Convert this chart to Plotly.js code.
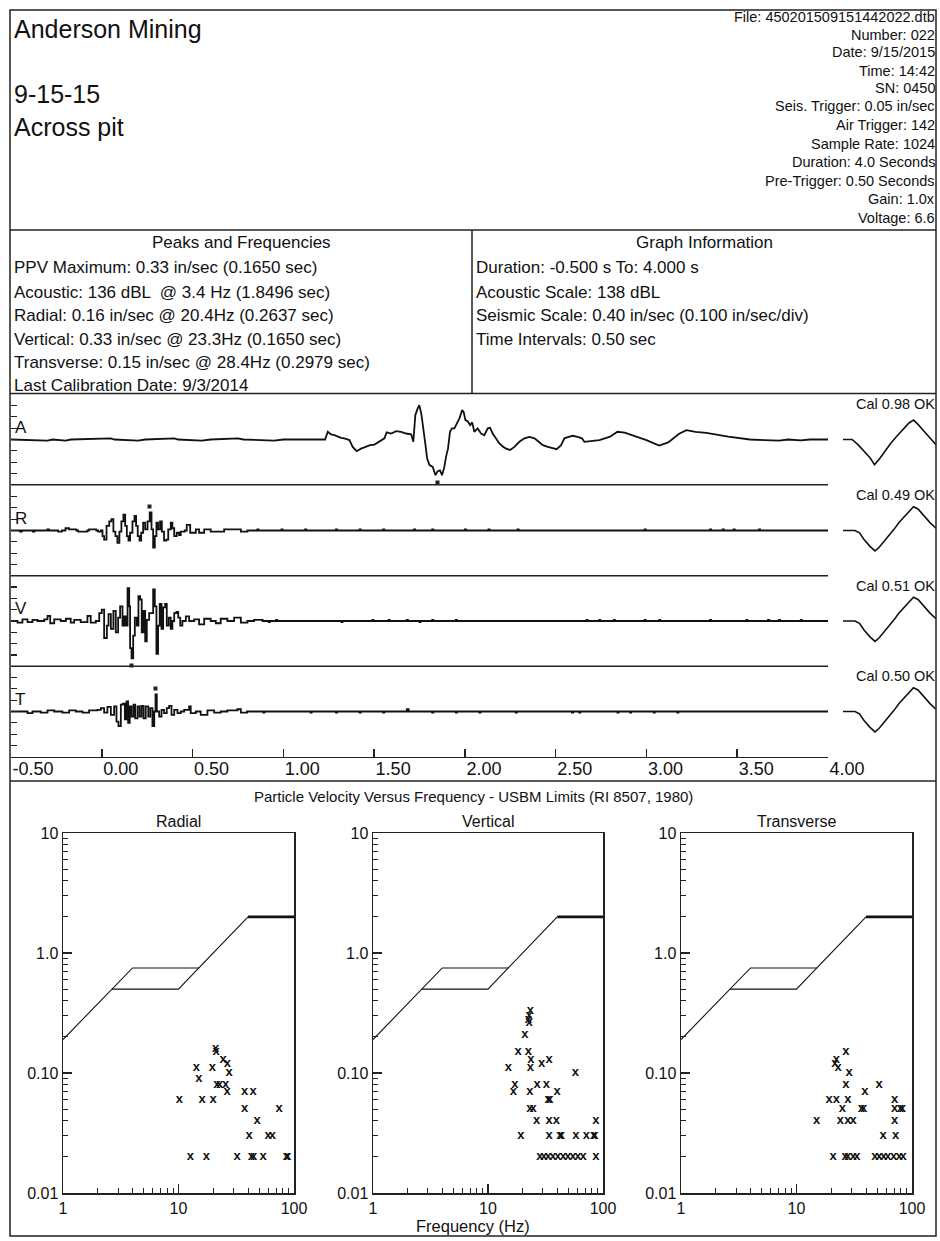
<!DOCTYPE html>
<html><head><meta charset="utf-8">
<script src="https://cdn.plot.ly/plotly-3.0.1.min.js"></script>
<style>html,body{margin:0;padding:0;background:#fff}#chart{width:940px;height:1241px}</style>
</head><body><div id="chart"></div>
<script>
// ---------------- DATA ----------------
const headerLeft = ['Anderson Mining', '9-15-15', 'Across pit'];
const headerRight = ['File: 450201509151442022.dtb','Number: 022','Date: 9/15/2015','Time: 14:42','SN: 0450',
  'Seis. Trigger: 0.05 in/sec','Air Trigger: 142','Sample Rate: 1024','Duration: 4.0 Seconds',
  'Pre-Trigger: 0.50 Seconds','Gain: 1.0x','Voltage: 6.6'];
const peaksTitle = 'Peaks and Frequencies';
const peaksLines = ['PPV Maximum: 0.33 in/sec (0.1650 sec)','Acoustic: 136 dBL  @ 3.4 Hz (1.8496 sec)',
  'Radial: 0.16 in/sec @ 20.4Hz (0.2637 sec)','Vertical: 0.33 in/sec @ 23.3Hz (0.1650 sec)',
  'Transverse: 0.15 in/sec @ 28.4Hz (0.2979 sec)','Last Calibration Date: 9/3/2014'];
const graphTitle = 'Graph Information';
const graphLines = ['Duration: -0.500 s To: 4.000 s','Acoustic Scale: 138 dBL',
  'Seismic Scale: 0.40 in/sec (0.100 in/sec/div)','Time Intervals: 0.50 sec'];
const channelNames = ['A','R','V','T'];
const calLabels = ['Cal 0.98 OK','Cal 0.49 OK','Cal 0.51 OK','Cal 0.50 OK'];
const timeTicks = [-0.5,0,0.5,1,1.5,2,2.5,3,3.5,4];
const timeTickText = ['-0.50','0.00','0.50','1.00','1.50','2.00','2.50','3.00','3.50','4.00'];
const seisDiv = 0.1;        // in/sec per division
const acDiv = 39.7;         // Pa per division (138 dBL full scale = 4 div)

// Acoustic (Pa)
const aT = [-0.5,-0.30,-0.27,-0.20,-0.17,0.05,0.07,0.20,0.24,0.40,0.42,0.55,0.60,0.75,0.78,0.95,1.0,1.23,
 1.245,1.263,1.281,1.300,1.318,1.336,1.364,1.382,1.404,1.428,1.456,1.478,1.502,1.529,1.557,1.569,1.594,1.621,1.649,1.676,1.704,1.716,
 1.727,1.740,1.749,1.760,1.771,1.783,1.792,1.805,1.823,1.838,1.850,1.863,1.874,1.887,1.896,1.907,1.918,1.929,1.942,1.955,
 1.970,1.985,1.993,2.003,2.015,2.029,2.040,2.052,2.070,2.089,2.107,2.126,2.139,2.153,2.172,2.190,2.212,2.227,2.249,2.273,
 2.300,2.328,2.355,2.383,2.407,2.429,2.457,2.483,2.505,2.530,2.548,2.572,2.594,2.621,2.645,2.658,2.686,2.711,2.741,
 2.80,2.84,2.88,2.95,3.00,3.07,3.12,3.18,3.22,3.27,3.33,3.45,3.57,3.65,3.73,3.78,3.85,3.90,4.0];
const aV = [0,-4,0,-4,0,4,0,-4,0,4,0,-4,0,4,0,-4,0,0,
 27,18,15,9,6,4,-2,-26,-41,-32,-26,-20,-18,-8,4,25,21,29,27,21,18,-8,
 85,109,120,91,27,-20,-67,-90,-96,-125,-111,-108,-125,-96,-61,-32,27,39,39,56,
 74,103,97,68,64,50,60,27,39,21,15,39,41,21,4,-14,-26,-32,-37,-26,
 -8,4,9,4,-8,-20,-26,-29,-34,-20,4,9,13,9,4,-8,-6,-2,-2,
 10,27,24,8,-2,-21,-10,20,33,27,23,10,0,-2,-4,0,-3,0,0];

// Radial (in/sec)
const rT = [-0.5,-0.45,-0.44,-0.38,-0.37,-0.30,-0.29,-0.24,-0.22,-0.20,-0.18,-0.14,-0.13,-0.08,-0.07,-0.03,-0.02,
 -0.005,0.004,0.013,0.026,0.041,0.053,0.064,0.075,0.086,0.097,0.108,0.119,0.129,0.138,0.147,0.156,0.169,0.180,0.189,0.198,
 0.208,0.217,0.228,0.239,0.252,0.264,0.274,0.283,0.292,0.301,0.310,0.321,0.331,0.343,0.355,0.366,0.380,0.389,0.399,0.413,
 0.426,0.435,0.457,0.468,0.481,0.487,0.499,0.518,0.536,0.564,0.600,0.637,0.674,0.729,0.766,0.802,
 0.857,0.863,0.99,0.996,1.12,1.126,1.29,1.296,1.42,1.426,1.55,1.556,1.72,1.726,1.82,1.826,2.0,2.006,2.13,2.136,
 2.29,2.296,2.99,2.996,3.35,3.356,3.42,3.426,3.48,3.486,3.62,3.626,4.0];
const rV = [0,-0.01,0,-0.01,0,0.01,0,-0.01,0,0.02,0.01,0,-0.01,0,0.01,0,-0.01,
 0,-0.05,-0.08,0.04,0.08,0.10,-0.01,-0.05,-0.11,-0.01,0.08,0.14,0.04,-0.05,-0.09,-0.02,0.08,0.13,0.04,-0.05,
 -0.09,-0.02,0.07,0.01,0.08,0.16,0.01,-0.15,-0.05,0.07,0.01,0.08,-0.01,-0.09,-0.08,0.01,0.07,0.02,-0.05,-0.02,
 -0.04,-0.01,0,0.05,0.05,-0.02,-0.02,0.01,-0.02,0.01,-0.01,-0.01,0.01,0.01,-0.01,0,
 0.01,0,0.01,0,0.01,0,0.01,0,0.01,0,0.01,0,0.01,0,0.01,0,0.01,0,0.01,0,
 0.01,0,0.01,0,0.01,0,0.01,0,0.01,0,0.01,0,0];

// Vertical (in/sec)
const vT = [-0.5,-0.464,-0.437,-0.409,-0.382,-0.354,-0.317,-0.299,-0.284,-0.262,-0.226,-0.198,-0.171,-0.152,-0.116,-0.079,-0.061,-0.033,
 -0.014,0.0,0.013,0.028,0.037,0.050,0.064,0.077,0.090,0.101,0.114,0.123,0.132,0.142,0.151,0.156,0.164,0.173,0.182,0.193,
 0.202,0.211,0.220,0.230,0.239,0.248,0.261,0.274,0.283,0.292,0.301,0.310,0.319,0.329,0.338,0.349,0.358,0.369,0.380,0.389,
 0.399,0.411,0.421,0.432,0.444,0.463,0.481,0.509,0.536,0.564,0.600,0.628,0.655,0.692,0.729,0.766,0.802,0.839,
 0.88,0.886,0.92,0.926,0.96,0.966,1.32,1.326,1.49,1.496,1.58,1.586,1.68,1.686,1.75,1.756,1.82,1.826,1.95,1.956,
 2.67,2.676,2.74,2.746,2.82,2.826,2.99,2.996,3.07,3.076,3.35,3.356,3.55,3.556,3.67,3.676,3.73,3.736,3.85,3.856,4.0];
const vV = [0,-0.015,0.015,-0.01,0.01,0,0.015,0.044,-0.02,0.015,0,0.02,-0.015,0.01,-0.01,0.044,-0.015,0,
 0.07,0.10,-0.15,-0.04,0.06,-0.07,0.09,-0.10,0.03,0.13,-0.04,0.04,-0.04,0.29,0.13,-0.24,-0.33,-0.13,0.03,-0.04,
 0.22,0.19,-0.10,0.09,-0.18,0.01,0.07,0.07,0.28,0.13,-0.29,-0.04,0.15,-0.07,0.12,0.15,-0.04,0.03,-0.07,0,
 0.07,0.08,0.03,-0.04,0,0.04,0,0.015,-0.03,0.02,0,-0.02,0.02,0,0.03,-0.015,0,0.01,
 0.01,0,-0.01,0,0.01,0,-0.01,0,0.01,0,0.01,0,0.01,0,-0.01,0,0.01,0,0.01,0,
 0.01,0,0.01,0,0.01,0,0.01,0,0.01,0,0.01,0,0.01,0,0.01,0,0.01,0,0.01,0,0];

// Transverse (in/sec)
const tT = [-0.5,-0.409,-0.382,-0.336,-0.299,-0.262,-0.217,-0.180,-0.143,-0.106,-0.070,
 -0.024,-0.005,0.013,0.031,0.050,0.068,0.081,0.092,0.105,0.116,0.127,0.136,0.145,0.154,0.164,0.175,0.184,0.197,0.208,0.219,
 0.230,0.242,0.256,0.267,0.279,0.289,0.296,0.303,0.316,0.329,0.343,0.358,0.371,0.384,0.399,0.417,0.435,0.454,0.481,0.490,
 0.518,0.545,0.582,0.619,0.655,0.692,0.747,0.766,
 0.80,0.89,0.896,1.15,1.156,1.29,1.296,1.42,1.426,1.55,1.556,1.68,1.69,1.82,1.826,1.95,1.956,2.08,2.086,
 2.28,2.286,2.59,2.596,2.63,2.636,2.84,2.846,2.91,2.916,3.04,3.046,3.17,3.176,4.0];
const tV = [0,-0.015,0,-0.01,0.01,0,-0.01,0.01,0,-0.01,0.01,
 0.015,0.03,-0.01,0.04,-0.03,0.045,-0.09,-0.13,0.06,0.07,-0.07,0.09,-0.10,0.045,-0.045,0.06,-0.06,0.045,-0.045,0.05,
 -0.06,0.045,-0.045,0.03,-0.13,0,0.15,0,-0.045,0.015,-0.015,0.03,0.05,-0.03,0.015,-0.015,0,0.015,0.045,-0.015,
 0,-0.03,0.01,-0.01,0,0.01,0.02,-0.01,
 0,-0.01,0,-0.01,0,-0.01,0,-0.01,0,-0.01,0,0.02,0,-0.01,0,-0.01,0,-0.01,0,
 -0.01,0,-0.01,0,-0.01,0,-0.01,0,-0.01,0,-0.01,0,-0.01,0,0];

// Peak markers [time, value]
const peakT = [1.8496, 0.2637, 0.1650, 0.2979];
const peakV = [-125, 0.16, -0.33, 0.15];

// Calibration pulses
const calMs = [5,17,21.5,26,32,37,41,47,53,56,61,65,71,75.5,80,86,92,98];
const calSeis = [0,0,-0.02,-0.08,-0.14,-0.18,-0.15,-0.09,-0.02,0.01,0.07,0.11,0.17,0.21,0.19,0.13,0.07,0.02];
const calAcMs = [5,14,20,26,32,36.5,41,47,53,59,65,71,75.5,80,86,92,98];
const calAc = [0,0,-18,-41,-64,-88,-70,-41,-12,12,35,58,68,53,29,6,-18];

// USBM RI 8507 limit lines
const limF1 = [1,4,15,40];
const limV1 = [0.19,0.75,0.75,2.0];
const limF2 = [2.65,10,15];
const limV2 = [0.5,0.5,0.75];
const limF3 = [40,100];
const limV3 = [2.0,2.0];

// Particle velocity vs frequency points
const radF = [10.2,12.7,14.3,15.0,16.0,17.4,19.6,19.9,21.0,21.2,21.5,22.7,24.3,26.5,25.6,26.3,27.4,32.1,37.4,37.4,44.2,40.8,42.8,44.8,47.9,53.9,59.6,65.0,74.2,85.9,88.0];
const radV = [0.06,0.02,0.11,0.09,0.06,0.02,0.11,0.06,0.16,0.15,0.08,0.08,0.13,0.12,0.08,0.07,0.10,0.02,0.07,0.05,0.07,0.03,0.02,0.02,0.04,0.02,0.03,0.03,0.05,0.02,0.02];
const vertF = [15.0,17.1,16.6,18.3,19.3,20.9,22.4,22.4,22.8,23.4,22.8,23.4,23.6,23.1,23.1,24.7,26.5,26.8,29.2,32.2,34.0,34.0,33.3,34.0,34.5,39.9,39.3,42.1,43.5,57.5,58.0,71.7,83.0,86.5,85.0,86.5,28.2,30.6,33.3,36.6,40.6,44.9,49.6,54.8,60.6,67.0];
const vertV = [0.11,0.08,0.07,0.15,0.03,0.21,0.15,0.28,0.30,0.33,0.26,0.11,0.13,0.07,0.05,0.05,0.04,0.08,0.12,0.08,0.13,0.03,0.06,0.04,0.06,0.07,0.04,0.03,0.03,0.10,0.03,0.03,0.03,0.04,0.03,0.02,0.02,0.02,0.02,0.02,0.02,0.02,0.02,0.02,0.02,0.02];
const transF = [14.9,19.2,20.8,21.5,22.1,22.9,22.1,24.0,24.9,26.3,26.7,26.7,27.9,28.5,27.9,27.9,30.9,30.9,33.3,36.5,38.1,39.0,47.6,51.8,51.8,56.1,56.8,61.9,70.8,70.8,70.8,72.2,69.4,77.2,82.5,83.6,79.3];
const transV = [0.04,0.06,0.02,0.12,0.13,0.11,0.06,0.04,0.05,0.02,0.15,0.08,0.06,0.10,0.02,0.04,0.04,0.02,0.02,0.05,0.05,0.07,0.02,0.08,0.02,0.03,0.02,0.02,0.06,0.05,0.04,0.03,0.02,0.02,0.05,0.02,0.05];
const pointMark = 'x';
const pvTitle = 'Particle Velocity Versus Frequency - USBM Limits (RI 8507, 1980)';
const pvNames = ['Radial','Vertical','Transverse'];
const xTitle = 'Frequency (Hz)';

// ---------------- LAYOUT HELPERS ----------------
const W = 940, H = 1241;
const px = x => x / W, py = y => 1 - y / H;
const FONT = 'Liberation Sans, Arial, Helvetica, sans-serif';
const INK = '#111';
const chanCenters = [439.5, 530.5, 621, 711.5];
const halfCh = 45.3;
const chanDom = c => [py(c + halfCh), py(c - halfCh)];

const traces = [];
const layout = {
  width: W, height: H, margin: {l:0,r:0,t:0,b:0},
  paper_bgcolor: '#fff', plot_bgcolor: 'rgba(0,0,0,0)',
  showlegend: false, font: {family: FONT, color: INK},
  shapes: [], annotations: []
};

// waveform channels
const waves = [[aT,aV,acDiv],[rT,rV,seisDiv],[vT,vV,seisDiv],[tT,tV,seisDiv]];
waves.forEach((w, i) => {
  const n = i + 1, sfx = n === 1 ? '' : String(n);
  const div = w[2];
  traces.push({x: w[0], y: w[1], xaxis: 'x'+sfx, yaxis: 'y'+sfx, type: 'scatter', mode: 'lines',
    line: {color: INK, width: 1.8, shape: i === 0 ? 'linear' : 'hv'}, hoverinfo: 'skip'});
  const isLast = i === 3;
  layout['xaxis'+sfx] = {domain: [px(11), px(828)], range: [-0.5, 4.0], anchor: 'y'+sfx,
    visible: isLast, showgrid: false, zeroline: false,
    showline: isLast, linecolor: '#222', linewidth: 1.5,
    ticks: isLast ? 'inside' : '', ticklen: 8, tickwidth: 1.5, tickcolor: '#222',
    tickmode: 'array', tickvals: timeTicks, ticktext: timeTickText,
    ticklabelposition: 'outside right', ticklabelstandoff: -5,
    tickfont: {size: 18, family: FONT, color: INK}};
  layout['yaxis'+sfx] = {domain: chanDom(chanCenters[i]), range: [-4*div, 4*div], anchor: 'x'+sfx,
    showgrid: false, zeroline: false, showline: false, showticklabels: false,
    ticks: 'inside', ticklen: 6, tickwidth: 1.2, tickcolor: '#222',
    tickmode: 'array', tickvals: [-3,-2,-1,0,1,2,3].map(k => k*div)};
  // calibration pulse
  const cn = n + 4;
  traces.push({x: i === 0 ? calAcMs : calMs, y: i === 0 ? calAc : calSeis, xaxis: 'x'+cn, yaxis: 'y'+cn,
    type: 'scatter', mode: 'lines', line: {color: INK, width: 1.6}, hoverinfo: 'skip'});
  layout['xaxis'+cn] = {domain: [px(838), px(936)], range: [0, 98], visible: false, anchor: 'y'+cn};
  layout['yaxis'+cn] = {domain: chanDom(chanCenters[i]), range: [-4*div, 4*div], visible: false, anchor: 'x'+cn};
  // labels
  layout.annotations.push({text: channelNames[i], x: px(13), y: py(chanCenters[i] - 12.5), xref: 'paper', yref: 'paper',
    xanchor: 'left', yanchor: 'middle', showarrow: false, font: {size: 17, family: FONT, color: INK}});
  layout.annotations.push({text: calLabels[i], x: px(937), y: py(chanCenters[i] - 35.5), xref: 'paper', yref: 'paper',
    xanchor: 'right', yanchor: 'middle', showarrow: false, font: {size: 14.5, family: FONT, color: INK}});
  // peak dot
  layout.annotations.push({text: ' ', x: peakT[i], y: peakV[i], xref: 'x'+sfx, yref: 'y'+sfx,
    showarrow: false, width: 3, height: 3, bgcolor: '#222', borderpad: 0, font: {size: 2},
    yshift: peakV[i] < 0 ? -7 : 6});
  // separators below channels A, R, V
  if (!isLast) layout.shapes.push({type: 'line', xref: 'paper', yref: 'paper',
    x0: px(11), x1: px(828), y0: py(chanCenters[i] + halfCh), y1: py(chanCenters[i] + halfCh),
    line: {color: '#222', width: 1.5}});
});

// PV vs frequency plots
const pvData = [[radF, radV], [vertF, vertV], [transF, transV]];
const pvX = [[63, 294], [373, 603], [681, 912]];
const minorX = [2,3,4,5,6,7,8,9,20,30,40,50,60,70,80,90];
const minorY = [0.02,0.03,0.04,0.05,0.06,0.07,0.08,0.09,0.2,0.3,0.4,0.5,0.6,0.7,0.8,0.9,2,3,4,5,6,7,8,9];
pvData.forEach((d, k) => {
  const n = 9 + k, xa = 'x'+n, ya = 'y'+n;
  traces.push({x: limF1, y: limV1, xaxis: xa, yaxis: ya, mode: 'lines', line: {color: INK, width: 1.1}, hoverinfo: 'skip'});
  traces.push({x: limF2, y: limV2, xaxis: xa, yaxis: ya, mode: 'lines', line: {color: INK, width: 1.1}, hoverinfo: 'skip'});
  traces.push({x: limF3, y: limV3, xaxis: xa, yaxis: ya, mode: 'lines', line: {color: INK, width: 2.6}, hoverinfo: 'skip'});
  traces.push({x: d[0], y: d[1], xaxis: xa, yaxis: ya, mode: 'text', text: d[0].map(() => pointMark),
    textposition: 'middle center', textfont: {size: 13, family: FONT, color: INK, weight: 700}, hoverinfo: 'skip'});
  layout['xaxis'+n] = {domain: [px(pvX[k][0]), px(pvX[k][1])], type: 'log', range: [0, 2], anchor: ya,
    showgrid: false, zeroline: false, showline: true, mirror: true, linecolor: '#222', linewidth: 1.5,
    ticks: 'inside', ticklen: 9, tickwidth: 1.3, tickcolor: '#222',
    tickmode: 'array', tickvals: [1,10,100], ticktext: ['1','10','100'],
    minor: {tickmode: 'array', tickvals: minorX, ticks: 'inside', ticklen: 5, tickwidth: 1, tickcolor: '#222', showgrid: false},
    tickfont: {size: 16, family: FONT, color: INK}};
  layout['yaxis'+n] = {domain: [py(1193), py(833)], type: 'log', range: [-2, 1], anchor: xa,
    showgrid: false, zeroline: false, showline: true, mirror: true, linecolor: '#222', linewidth: 1.5,
    ticks: 'inside', ticklen: 9, tickwidth: 1.3, tickcolor: '#222',
    tickmode: 'array', tickvals: [0.01,0.1,1,10], ticktext: ['0.01','0.10','1.0','10'],
    minor: {tickmode: 'array', tickvals: minorY, ticks: 'inside', ticklen: 5, tickwidth: 1, tickcolor: '#222', showgrid: false},
    tickfont: {size: 16, family: FONT, color: INK}};
  layout.annotations.push({text: pvNames[k], x: px((pvX[k][0]+pvX[k][1])/2), y: py(821), xref: 'paper', yref: 'paper',
    xanchor: 'center', yanchor: 'middle', showarrow: false, font: {size: 16, family: FONT, color: INK}});
});

// text blocks
const note = (text, x, y, anchor, size) => layout.annotations.push({text, x: px(x), y: py(y), xref: 'paper', yref: 'paper',
  xanchor: anchor, yanchor: 'middle', showarrow: false, font: {size, family: FONT, color: INK}});
[29, 94, 127].forEach((y, i) => note(headerLeft[i], 12, y, 'left', 25));
[17, 34.5, 52.5, 70.5, 88, 106, 125, 143.5, 162, 181, 199, 218].forEach((y, i) => note(headerRight[i], 937, y, 'right', 14.5));
note(peaksTitle, 241, 242, 'center', 17);
[268, 292, 315, 339, 362, 385].forEach((y, i) => note(peaksLines[i], 12, y, 'left', 17));
note(graphTitle, 704, 242, 'center', 17);
[268, 292, 315, 339].forEach((y, i) => note(graphLines[i], 474, y, 'left', 17));
note(pvTitle, 473, 796, 'center', 15);
note(xTitle, 473, 1226, 'center', 16.5);

// frame lines
const hline = (y, x0, x1) => layout.shapes.push({type: 'line', xref: 'paper', yref: 'paper', x0: px(x0), x1: px(x1), y0: py(y), y1: py(y), line: {color: '#222', width: 1.5}});
layout.shapes.push({type: 'rect', xref: 'paper', yref: 'paper', x0: px(10), x1: px(936), y0: py(1236), y1: py(10), line: {color: '#222', width: 1.5}});
hline(230, 10, 936);
hline(393.5, 10, 936);
hline(781, 10, 936);
layout.shapes.push({type: 'line', xref: 'paper', yref: 'paper', x0: px(472), x1: px(472), y0: py(393.5), y1: py(230), line: {color: '#222', width: 1.5}});

Plotly.newPlot('chart', traces, layout, {staticPlot: true, displayModeBar: false});
</script></body></html>
